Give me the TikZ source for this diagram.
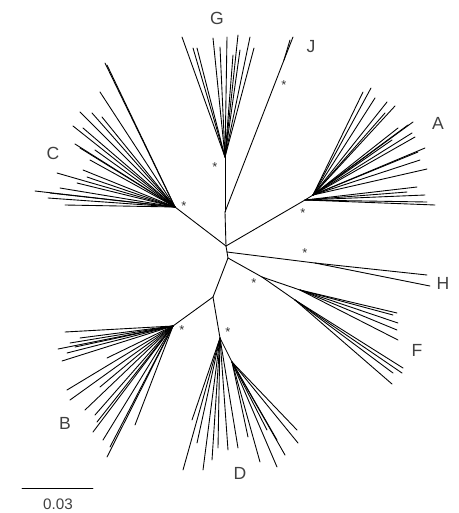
\documentclass[tikz,border=0pt]{standalone}
\usepackage{fontspec}
\setmainfont{Liberation Sans}
\usepackage{tkz-euclide}
\definecolor{LabelClr}{rgb}{0.25,0.25,0.25}
\tikzset{cladelbl/.style={text=LabelClr,font=\fontsize{15}{15}\selectfont,inner sep=0pt},
  astnode/.style={text=black!80,font=\fontsize{11}{11}\selectfont,inner sep=0pt}}

\begin{document}
\begin{tikzpicture}[scale=.3]
\tkzSetUpLine[line width=0.75pt,color=black]
\useasboundingbox (0,0) rectangle (45.9,-51.3);

% inner nodes
\tkzDefPoints{22.6/-24.6/O,22.7/-25.2/P1,22.8/-25.8/P2,21.3/-29.7/BD,22.5/-21.2/GJ,
  22.5/-15.7/nG,28.4/-6.0/nJ,17.5/-20.7/nC,30.5/-20.0/nA2,31.3/-19.5/nA1,
  31.5/-26.3/nH,26.2/-27.7/nF,30.0/-29.0/nFa,29.5/-30.0/nFb,
  17.3/-32.6/nB,22.0/-33.8/nD,23.2/-36.2/nDr}

% tips
\tkzDefPoints{18.2/-3.7/g1,19.3/-4.8/g2,19.7/-4.8/g3,21.3/-3.8/g4,22.0/-4.7/g5,
  22.7/-3.7/g6,23.8/-3.5/g7,24.0/-5.0/g8,25.0/-3.7/g9,25.4/-4.8/g10,23.3/-5.5/g11}
\tkzDefPoints{29.0/-4.0/j1,29.3/-3.7/j2}
\tkzDefPoints{10.7/-6.5/c1,10.5/-6.3/c2,10.0/-9.2/c3,8.0/-11.2/c4,9.2/-11.3/c5,
  10.2/-11.7/c6,7.3/-12.6/c7,8.3/-12.8/c8,7.5/-14.4/c9,8.0/-14.8/c10,5.7/-17.3/c11,
  3.5/-19.1/c12,4.8/-19.8/c13,6.5/-20.5/c14,6.0/-18.8/c15,8.3/-17.0/c16,
  8.7/-17.7/c17,7.7/-18.3/c18,5.0/-19.3/c19,9.0/-16.0/c20,9.5/-15.0/c21}
\tkzDefPoints{36.3/-9.2/a1,37.1/-8.8/a2,37.5/-9.8/a3,38.7/-10.2/a4,39.5/-10.6/a5,
  38.5/-11.3/a6,39.8/-12.8/a7,40.8/-12.5/a8,41.3/-12.2/a9,41.2/-13.3/a10,
  41.5/-13.7/a11,42.5/-14.8/a12,41.8/-15.2/a13,42.0/-16.0/a14,42.7/-16.9/a15,
  39.2/-14.0/a16,43.5/-20.5/a17,42.7/-20.2/a18,41.7/-18.7/a19,42.5/-19.5/a20,
  40.7/-19.2/a21}
\tkzDefPoints{42.7/-27.5/h1,43.0/-28.6/h2}
\tkzDefPoints{39.3/-31.5/f1,39.7/-31.3/f2,39.8/-32.3/f3,39.7/-33.0/f4,39.8/-34.0/f5,
  40.3/-36.8/f6,40.2/-37.3/f7,39.3/-37.3/f8,39.2/-38.4/f9}
\tkzDefPoints{6.5/-33.2/b1,5.8/-34.9/b2,6.2/-36.1/b3,6.7/-35.3/b4,7.0/-34.3/b5,
  6.7/-39.0/b6,7.0/-40.0/b7,8.5/-41.0/b8,9.5/-41.5/b9,9.7/-42.2/b10,9.3/-43.2/b11,
  10.3/-44.0/b12,10.7/-45.7/b13,11.0/-44.7/b14,13.5/-42.5/b15,10.7/-35.8/b16,
  10.0/-38.7/b17,8.0/-33.8/b18,7.5/-34.7/b19}
\tkzDefPoints{18.3/-47.0/d1,19.2/-42.0/d2,19.7/-44.3/d3,20.3/-47.0/d4,21.2/-46.0/d5,
  21.8/-44.8/d6,22.8/-45.0/d7,23.8/-44.8/d8,24.8/-43.7/d9,26.0/-46.2/d10,
  27.7/-46.7/d11,28.5/-45.5/d12,29.8/-44.3/d13,29.7/-43.0/d14,27.7/-44.0/d15,
  26.7/-43.0/d16}
\tkzDefPoints{2.2/-48.8/s1,9.3/-48.8/s2}

% backbone
\tkzDrawSegments(O,P1 P1,P2 P2,BD O,GJ GJ,nG GJ,nJ O,nC O,nA2 nA2,nA1
  P1,nH P2,nF nF,nFa nF,nFb BD,nB BD,nD nD,nDr)

% clades
\tkzDrawSegments(nG,g1 nG,g2 nG,g3 nG,g4 nG,g5 nG,g6 nG,g7 nG,g8 nG,g9 nG,g10 nG,g11)
\tkzDrawSegments(nJ,j1 nJ,j2)
\tkzDrawSegments(nC,c1 nC,c2 nC,c3 nC,c4 nC,c5 nC,c6 nC,c7 nC,c8 nC,c9 nC,c10 nC,c11
  nC,c12 nC,c13 nC,c14 nC,c15 nC,c16 nC,c17 nC,c18 nC,c19 nC,c20 nC,c21)
\tkzDrawSegments(nA1,a1 nA1,a2 nA1,a3 nA1,a4 nA1,a5 nA1,a6 nA1,a7 nA1,a8 nA1,a9
  nA1,a10 nA1,a11 nA1,a12 nA1,a13 nA1,a14 nA1,a15 nA1,a16
  nA2,a17 nA2,a18 nA2,a19 nA2,a20 nA2,a21)
\tkzDrawSegments(nH,h1 nH,h2)
\tkzDrawSegments(nFa,f1 nFa,f2 nFa,f3 nFa,f4 nFa,f5 nFb,f6 nFb,f7 nFb,f8 nFb,f9)
\tkzDrawSegments(nB,b1 nB,b2 nB,b3 nB,b4 nB,b5 nB,b6 nB,b7 nB,b8 nB,b9 nB,b10
  nB,b11 nB,b12 nB,b13 nB,b14 nB,b15 nB,b16 nB,b17 nB,b18 nB,b19)
\tkzDrawSegments(nD,d1 nD,d2 nD,d3 nD,d4 nD,d5 nD,d6 nD,d7 nD,d8
  nDr,d9 nDr,d10 nDr,d11 nDr,d12 nDr,d13 nDr,d14 nDr,d15 nDr,d16)

% scale bar
\tkzDrawSegment(s1,s2)
\node[cladelbl,font=\fontsize{13}{13}\selectfont] (sbar) at (5.8,-50.4) {0.03};

% clade labels
\node[cladelbl] (lG) at (21.7,-1.8) {G};
\node[cladelbl] (lJ) at (31.1,-4.7) {J};
\node[cladelbl] (lA) at (43.8,-12.3) {A};
\node[cladelbl] (lC) at (5.3,-15.3) {C};
\node[cladelbl] (lH) at (44.3,-28.3) {H};
\node[cladelbl] (lF) at (41.7,-35.0) {F};
\node[cladelbl] (lB) at (6.5,-42.3) {B};
\node[cladelbl] (lD) at (24.0,-47.3) {D};

% support marks
\node[astnode] (sG) at (21.5,-16.7) {*};
\node[astnode] (sJ) at (28.4,-8.5) {*};
\node[astnode] (sC) at (18.4,-20.6) {*};
\node[astnode] (sA) at (30.3,-21.3) {*};
\node[astnode] (sH) at (30.5,-25.3) {*};
\node[astnode] (sF) at (25.4,-28.3) {*};
\node[astnode] (sB) at (18.2,-33.0) {*};
\node[astnode] (sD) at (22.8,-33.2) {*};

\end{tikzpicture}
\end{document}
